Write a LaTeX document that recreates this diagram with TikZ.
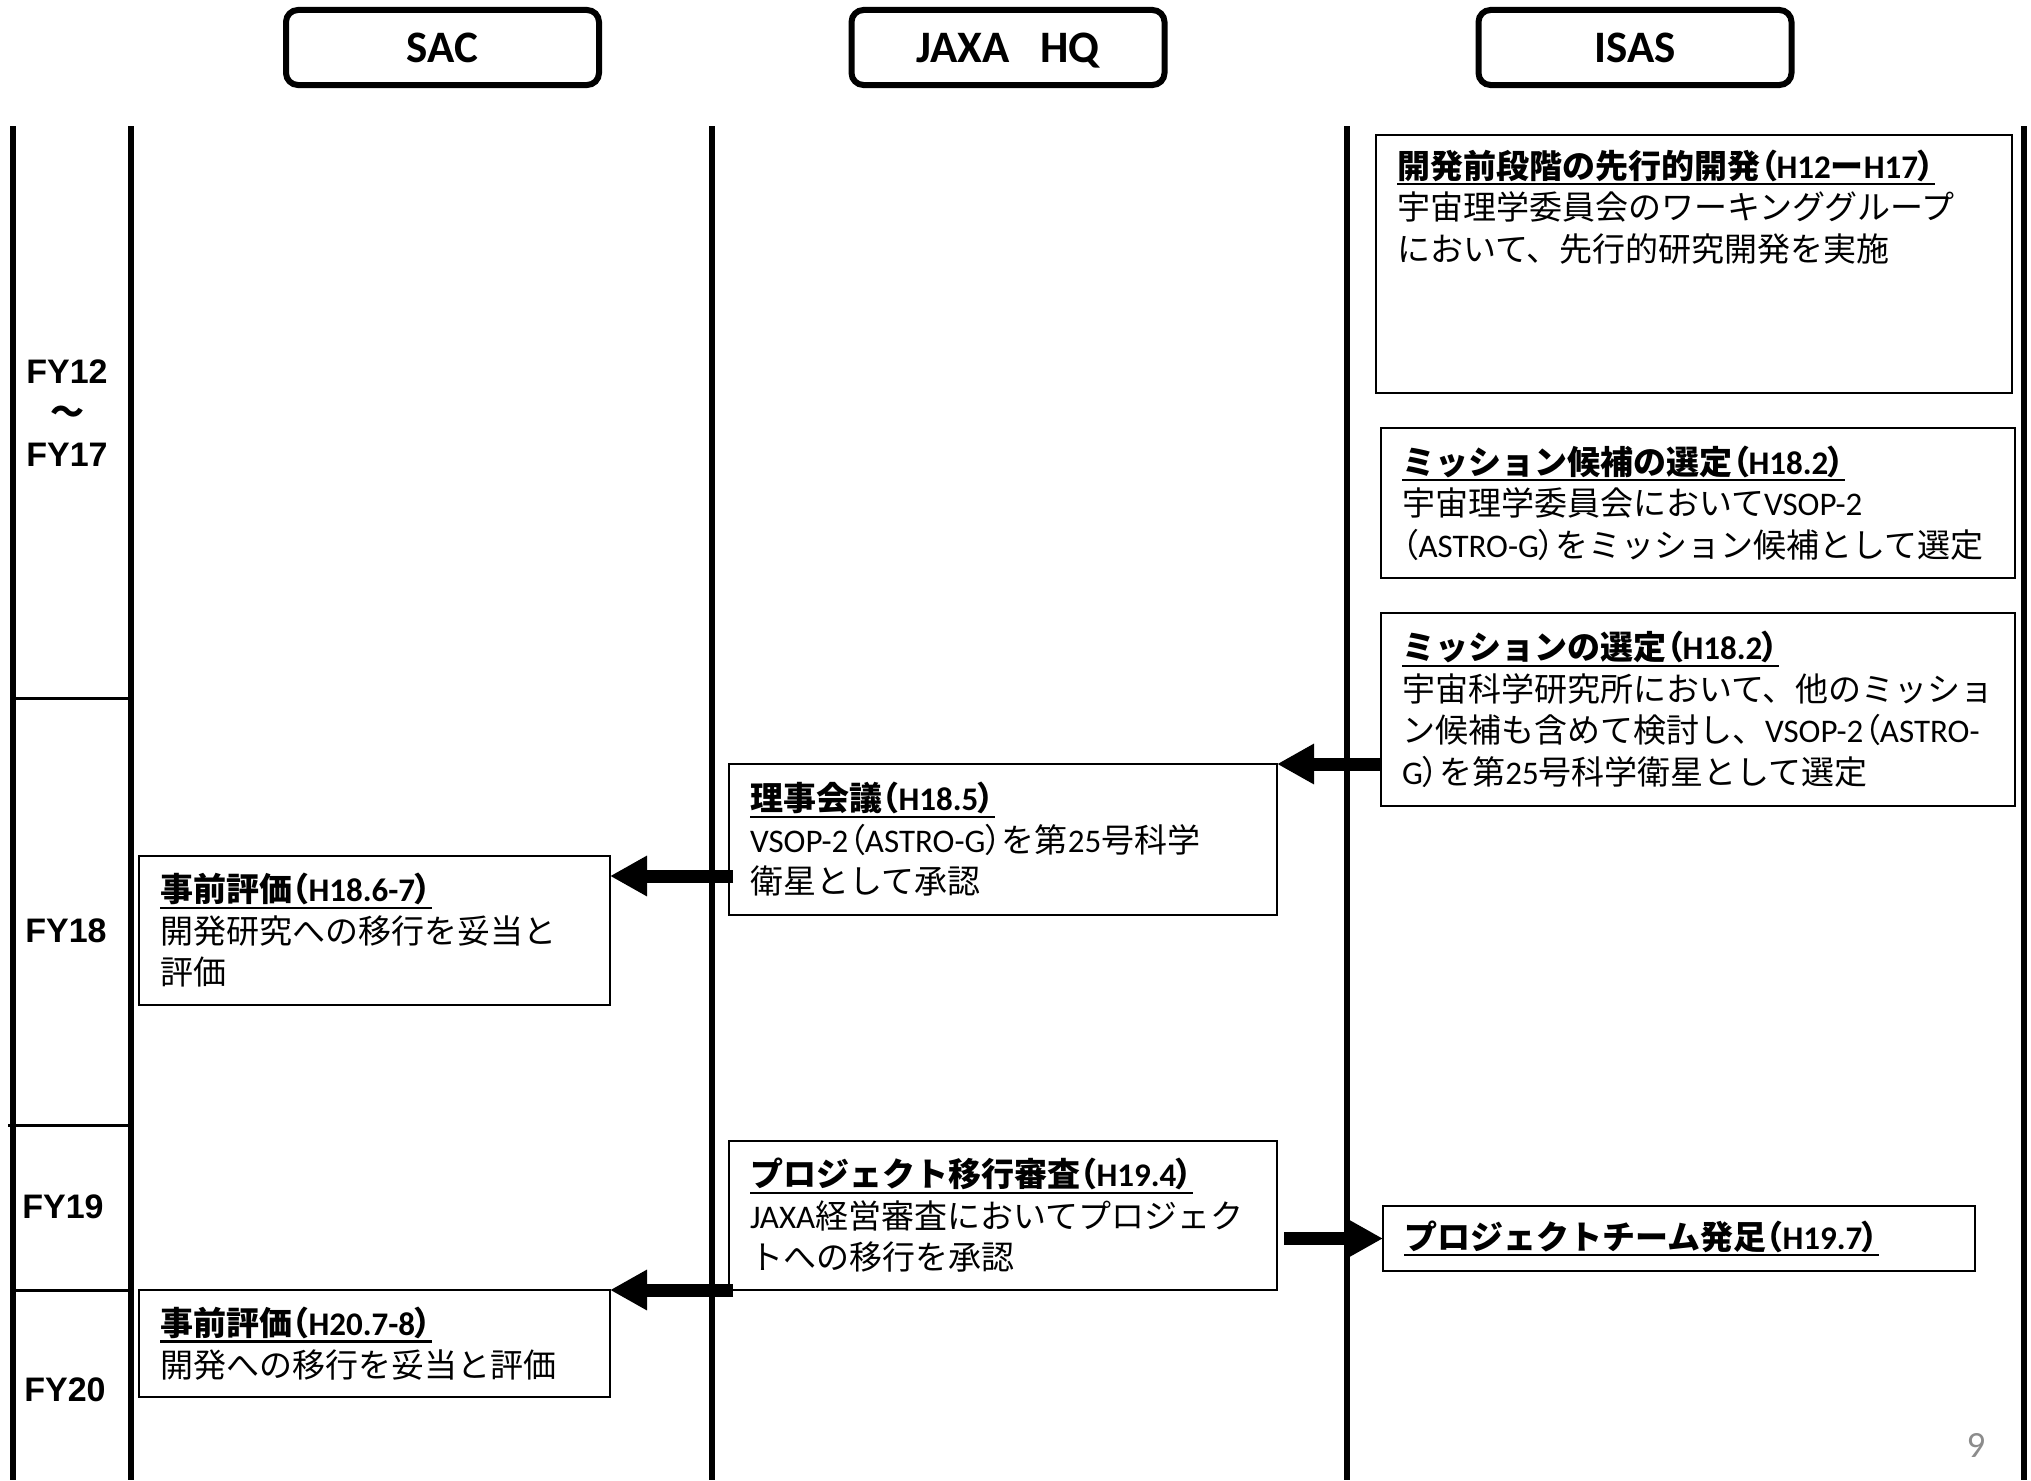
\documentclass[tikz,border=0pt]{standalone}
\usepackage{fontspec}
\setmainfont{Noto Sans CJK JP}
\newfontfamily\lat{Carlito}
\newfontfamily\arial{Liberation Sans}
\newfontfamily\jpp{Noto Sans CJK JP}[RawFeature=+palt]
\usetikzlibrary{arrows.meta,calc}
\newcommand\la[1]{{\lat #1}}
\newcommand\lp{{\jpp （}}
\newcommand\rp{{\jpp ）}}
\newcommand\wave{{\rmfamily ～}}
\newcommand\ttl[1]{\setbox0=\hbox{\bfseries #1}\rlap{\rule[-7pt]{\wd0}{2.2pt}}\box0}
\tikzset{
  head/.style={draw, line width=6pt, rounded corners=12pt, minimum width=313pt, minimum height=75pt, text height=30pt, text depth=0pt,
    font=\lat\bfseries\fontsize{45}{54}\selectfont},
  lane/.style={line width=6pt},
  yr/.style={line width=3pt},
  fy/.style={align=center, font=\arial\bfseries\fontsize{34}{41.5}\selectfont},
  ev/.style={draw, line width=2.5pt, anchor=north west, align=left, inner xsep=21pt, inner ysep=0pt, outer sep=0pt,
    font=\fontsize{33}{41.5}\selectfont, execute at begin node={\exhyphenpenalty=10000 }},
  flow/.style={line width=13pt, -{Triangle[length=37pt,width=38pt]}}
}
\begin{document}
\begin{tikzpicture}[x=1pt,y=1pt]
    \useasboundingbox (0,0) rectangle (2031,-1480);
    \node[head] (sac) at (442.5,-47.5) {SAC};
    \node[head] (hq) at (1008,-47.5) {JAXA\ \ \ HQ};
    \node[head] (isas) at (1635,-47.5) {ISAS};
    \draw[lane] (13,-126) -- (13,-1480);
    \draw[lane] (131,-126) -- (131,-1480);
    \draw[lane] (712,-126) -- (712,-1480);
    \draw[lane] (1347,-126) -- (1347,-1480);
    \draw[lane] (2024,-126) -- (2024,-1480);
    \draw[yr] (13,-698) -- (131,-698);
    \draw[yr] (8,-1125) -- (131,-1125);
    \draw[yr] (13,-1290) -- (131,-1290);
    \node[fy] (fy12) at (67,-413) {FY12\\\wave\\FY17};
    \node[fy] (fy18) at (66,-931) {FY18};
    \node[fy] (fy19) at (63,-1207) {FY19};
    \node[fy] (fy20) at (65,-1390) {FY20};
    \node[ev, text width=594pt, minimum height=258pt, text height=43pt, text depth=215pt] (pre) at (1376,-135)
        {\ttl{開発前段階の先行的開発\lp\la{H12}ー\la{H17}\rp}\\宇宙理学委員会のワーキンググループ\\において、先行的研究開発を実施};
    \node[ev, text width=592pt, minimum height=150pt] (cand) at (1381,-428)
        {\ttl{ミッション候補の選定\lp\la{H18.2}\rp}\\宇宙理学委員会において\la{VSOP-2}\\\lp\la{ASTRO-G}\rp をミッション候補として選定};
    \node[ev, text width=592pt, minimum height=193pt] (sel) at (1381,-613)
        {\ttl{ミッションの選定\lp\la{H18.2}\rp}\\宇宙科学研究所において、他のミッショ\\ン候補も含めて検討し、\la{VSOP-2}\lp\la{ASTRO-}\\\la{G}\rp を第\la{25}号科学衛星として選定};
    \node[ev, text width=506pt, minimum height=151pt] (rij) at (729,-764)
        {\ttl{理事会議\lp\la{H18.5}\rp}\\\la{VSOP-2}\lp\la{ASTRO-G}\rp を第\la{25}号科学\\衛星として承認};
    \node[ev, text width=429pt, minimum height=149pt] (hyo1) at (139,-856)
        {\ttl{事前評価\lp\la{H18.6-7}\rp}\\開発研究への移行を妥当と\\評価};
    \node[ev, text width=506pt, minimum height=149pt] (proj) at (729,-1141)
        {\ttl{プロジェクト移行審査\lp\la{H19.4}\rp}\\\la{JAXA}経営審査においてプロジェク\\トへの移行を承認};
    \node[ev, text width=550pt, minimum height=65pt] (team) at (1383,-1206)
        {\ttl{プロジェクトチーム発足\lp\la{H19.7}\rp}};
    \node[ev, text width=429pt, minimum height=107pt] (hyo2) at (139,-1290)
        {\ttl{事前評価\lp\la{H20.7-8}\rp}\\開発への移行を妥当と評価};
    \draw[flow] (sel.west |- rij.north east) -- (rij.north east);
    \draw[flow] ($(rij.west |- hyo1.north east)+(4,-20)$) -- ([yshift=-20pt]hyo1.north east);
    \draw[flow] ([xshift=4pt]proj.south west) -- (hyo2.north east);
    \draw[flow] ($(proj.east |- team.west)+(7,0)$) -- (team.west);
    \node[font=\lat\fontsize{37}{44}\selectfont, text=black!45] (page) at (1976,-1445) {9};
\end{tikzpicture}
\end{document}
